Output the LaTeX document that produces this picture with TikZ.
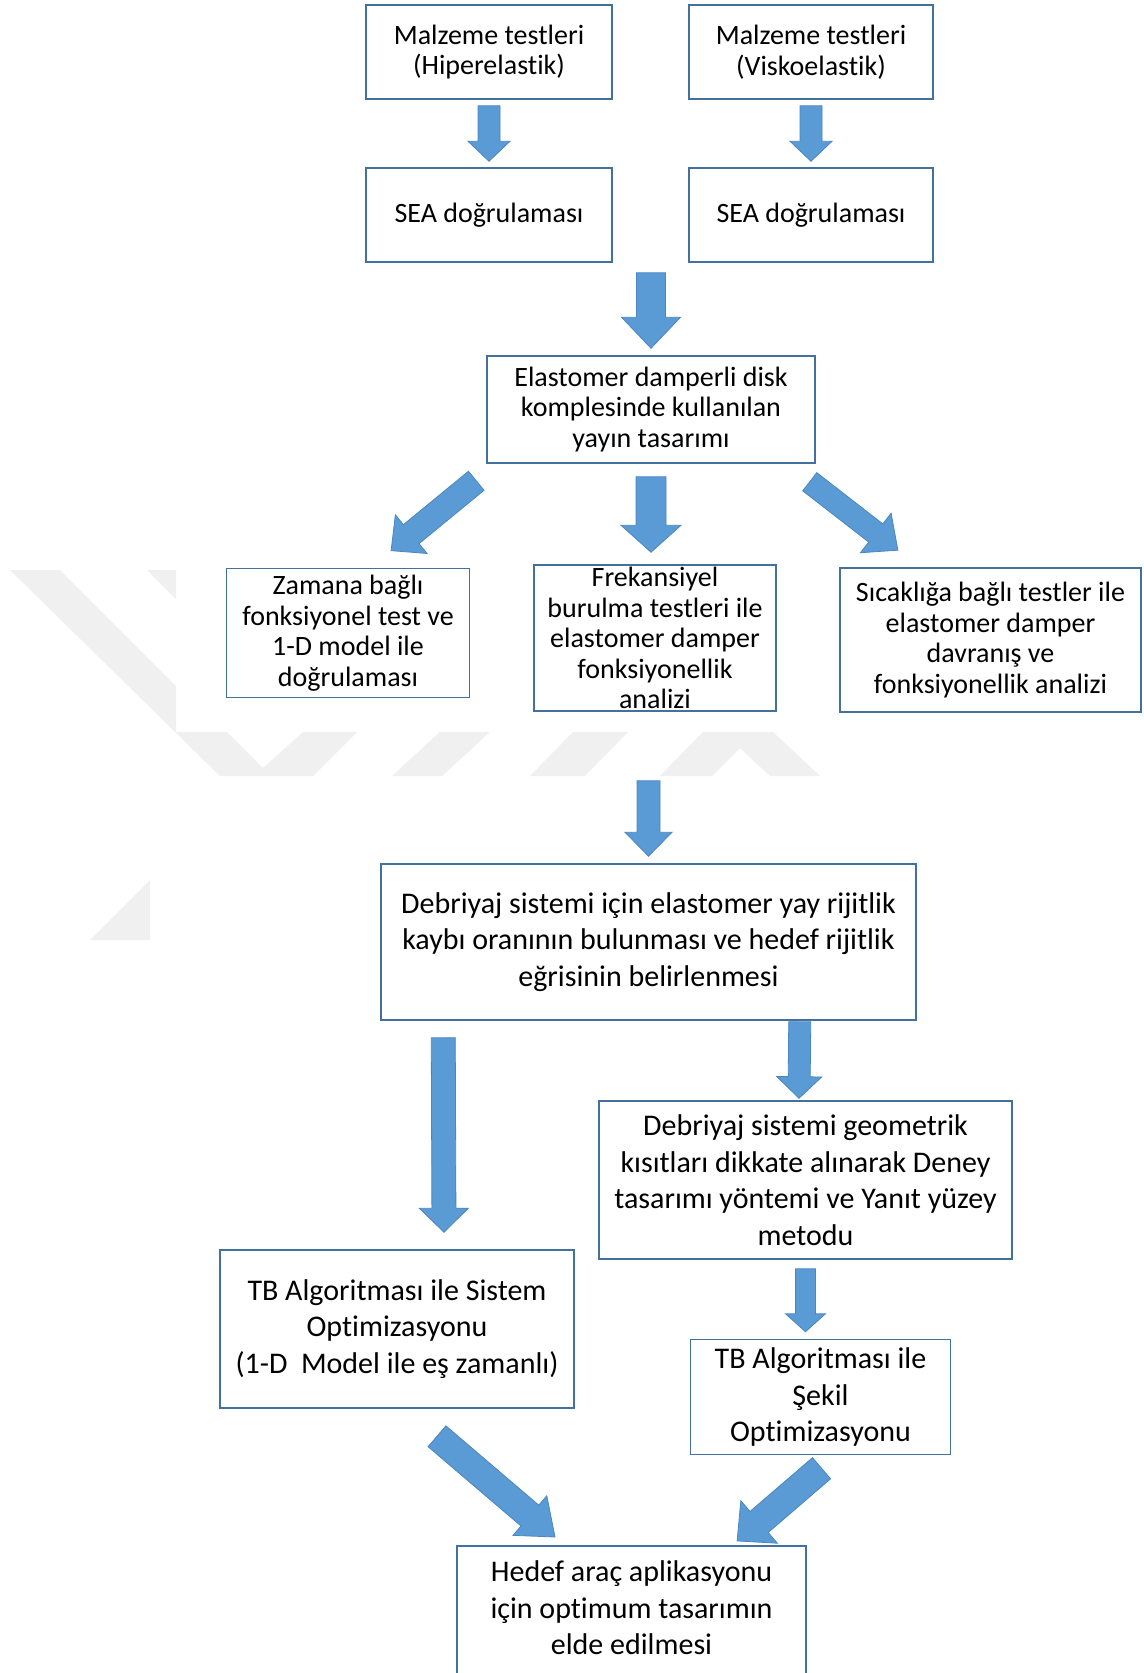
\documentclass[tikz,border=0pt]{standalone}
\usepackage{fontspec}
\setmainfont{Carlito}[Ligatures=NoCommon]
\usetikzlibrary{calc}

\definecolor{boxblue}{HTML}{41719C}
\definecolor{arrowfill}{HTML}{5B9BD5}
\definecolor{arrowedge}{HTML}{4A86C2}
\definecolor{markgray}{HTML}{F0F0F0}

% Block arrow from tail centre #1 to tip #2:
% #3 half width of the shaft, #4 half width of the head, #5 length of the head
\newcommand\blockarrow[5]{%
  \path[blockfill] let \p1=#1, \p2=#2,
      \n1={atan2(\y2-\y1,\x2-\x1)}, \n2={veclen(\x2-\x1,\y2-\y1)} in
    [shift={(\p1)}, rotate=\n1]
    (0,#3) -- ({\n2-#5},#3) -- ({\n2-#5},#4) -- (\n2,0)
    -- ({\n2-#5},-#4) -- ({\n2-#5},-#3) -- (0,-#3) -- cycle;}

\begin{document}
\begin{tikzpicture}[x=1pt, y=-1pt,
  boxbase/.style={draw=boxblue, line width=1.5pt, fill=white, align=center,
    inner sep=0pt, text=black},
  smallbox/.style={boxbase, font=\fontsize{28}{30.5}\selectfont},
  bigbox/.style={boxbase, font=\fontsize{30}{36.5}\selectfont},
  bigtext/.style={align=center, inner sep=0pt, text=black,
    font=\fontsize{30}{36.5}\selectfont},
  blockfill/.style={fill=arrowfill, draw=arrowedge, line width=0.8pt, line join=miter}]

\useasboundingbox (0,0) rectangle (1143,1673);
\clip (0,0) rectangle (1143,1673);
\fill[white] (0,0) rectangle (1143,1673);

% faint background logo
\fill[markgray] (10,570) -- (60,570) -- (176,686) -- (176,732) -- (227,732)
  -- (263,768) -- (303,732) -- (357,732) -- (313,776) -- (220,776) -- cycle;
\fill[markgray] (147,570) -- (176,570) -- (176,599) -- cycle;
\fill[markgray] (392,776) -- (442,776) -- (490,732) -- (440,732) -- cycle;
\fill[markgray] (530,776) -- (585,776) -- (628,732) -- (573,732) -- cycle;
\fill[markgray] (660,776) -- (703,732) -- (773,732) -- (820,776) -- (770,776)
  -- (740,748) -- (712,776) -- cycle;
\fill[markgray] (90,940) -- (150,940) -- (150,880) -- cycle;

% boxes
\node[smallbox, minimum width=246pt, minimum height=94pt] (b1) at (489,52)
  {Malzeme testleri\\(Hiperelastik)};
\node[smallbox, minimum width=244pt, minimum height=94pt] (b2) at (811,52)
  {Malzeme testleri\\(Viskoelastik)};
\node[smallbox, minimum width=246pt, minimum height=94pt] (b3) at (489,215)
  {SEA doğrulaması};
\node[smallbox, minimum width=244pt, minimum height=94pt] (b4) at (811,215)
  {SEA doğrulaması};
\node[smallbox, minimum width=328pt, minimum height=107pt] (b5) at (651,409.5)
  {Elastomer damperli disk\\komplesinde kullanılan\\yayın tasarımı};
\node[smallbox, minimum width=243pt, minimum height=129pt] (b6) at (348,633)
  {Zamana bağlı\\fonksiyonel test ve\\1-D model ile\\doğrulaması};
\node[smallbox, minimum width=242pt, minimum height=146pt] (b7) at (655,638)
  {Frekansiyel\\burulma testleri ile\\elastomer damper\\fonksiyonellik\\analizi};
\node[smallbox, minimum width=301pt, minimum height=144pt] (b8) at (990.5,640)
  {Sıcaklığa bağlı testler ile\\elastomer damper\\davranış ve\\fonksiyonellik analizi};
\node[bigbox, minimum width=535pt, minimum height=156pt] (b9) at (648.5,942)
  {Debriyaj sistemi için elastomer yay rijitlik\\kaybı oranının bulunması ve hedef rijitlik\\eğrisinin belirlenmesi};
\node[bigbox, minimum width=413pt, minimum height=158pt] (b10) at (805.5,1180)
  {Debriyaj sistemi geometrik\\kısıtları dikkate alınarak Deney\\tasarımı yöntemi ve Yanıt yüzey\\metodu};
\node[bigbox, minimum width=354pt, minimum height=158pt] (b11) at (397,1329)
  {TB Algoritması ile Sistem\\Optimizasyonu\\(1-D\ \ Model ile eş zamanlı)};
\node[bigbox, minimum width=260pt, minimum height=115pt] (b12) at (820.5,1397)
  {TB Algoritması ile\\Şekil\\Optimizasyonu};
\node[boxbase, minimum width=349pt, minimum height=170pt, anchor=north] (b13)
  at (631.5,1545) {};
\node[bigtext] (b13t) at (631.5,1608)
  {Hedef araç aplikasyonu\\için optimum tasarımın\\elde edilmesi};

% block arrows
\blockarrow{($(b1.south)+(0,6)$)}{($(b3.north)+(0,-6)$)}{11}{21}{20}
\blockarrow{($(b2.south)+(0,6)$)}{($(b4.north)+(0,-6)$)}{11}{21}{20}
\blockarrow{($(b5.north|-b3.south)+(0,10)$)}{($(b5.north)+(0,-7)$)}{14.5}{29.5}{31}
\blockarrow{($(b5.south west)+(-10,17)$)}{($(b6.north)+(43,-17)$)}{12.3}{25}{26}
\blockarrow{($(b5.south)+(0,13)$)}{($(b5.south|-b7.north)+(0,-12)$)}{15}{30}{27}
\blockarrow{($(b5.south east)+(-6,18)$)}{($(b8.north)+(-92.5,-17)$)}{11.5}{25}{28}
\blockarrow{($(b9.north|-b7.south)+(0,69)$)}{($(b9.north)+(0,-7)$)}{11.5}{23.5}{24}
\blockarrow{($(b9.south west)+(63,17)$)}{($(b11.north)+(47,-17)$)}{12}{24.5}{24}
\blockarrow{($(b9.south east)+(-117,1)$)}{($(b10.north)+(-6.5,-2)$)}{11}{22.5}{21.5}
\blockarrow{($(b10.south)+(0,9)$)}{($(b10.south|-b12.north)+(0,-7)$)}{10}{20}{18}
\blockarrow{($(b11.south)+(40,27.5)$)}{($(b13.north)+(-76.5,-8)$)}{13.7}{26}{33}
\blockarrow{($(b12.south)+(1,13)$)}{($(b13.north)+(105.5,-4)$)}{13.9}{28}{29}
\end{tikzpicture}
\end{document}
